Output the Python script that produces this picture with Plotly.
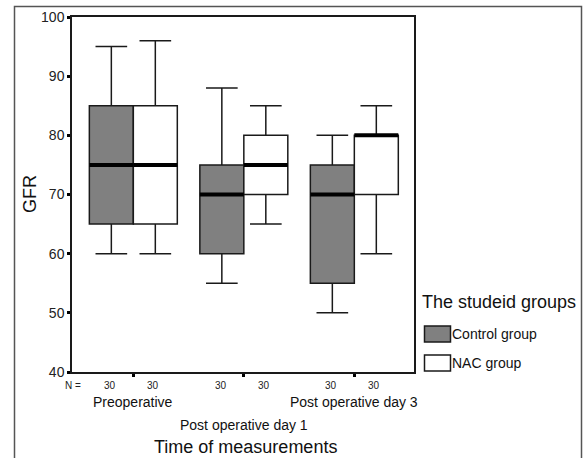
import plotly.graph_objects as go

# ---- data ----
categories = ["Preoperative", "Post operative day 1", "Post operative day 3"]
groups = ["Control group", "NAC group"]
counts = [[30, 30, 30], [30, 30, 30]]

control_lower = [60, 55, 50]
control_q1 = [65, 60, 55]
control_median = [75, 70, 70]
control_q3 = [85, 75, 75]
control_upper = [95, 88, 80]

nac_lower = [60, 65, 60]
nac_q1 = [65, 70, 70]
nac_median = [75, 75, 80]
nac_q3 = [85, 80, 80]
nac_upper = [96, 85, 85]

y_ticks = [40, 50, 60, 70, 80, 90, 100]

# ---- layout geometry ----
W, H = 585, 458
ML, MR, MT, MB = 72, 171, 17, 86
PW, PH = W - ML - MR, H - MT - MB


def px(xp):
    return (xp - ML) / PW


def py(yp):
    return (H - MB - yp) / PH


FONT = "Liberation Sans, Arial, sans-serif"
GRAY = "#808080"
LINE = "#1a1a1a"

fig = go.Figure()
series = [
    (groups[0], control_lower, control_q1, control_median, control_q3, control_upper, GRAY),
    (groups[1], nac_lower, nac_q1, nac_median, nac_q3, nac_upper, "white"),
]
for name, lo, q1, med, q3, up, fill in series:
    fig.add_trace(go.Box(
        name=name, x=categories, lowerfence=lo, q1=q1, median=med, q3=q3,
        upperfence=up, fillcolor=fill, line=dict(color=LINE, width=1.5),
        whiskerwidth=0.72, boxpoints=False, showlegend=False,
        hoverinfo="y",
    ))

shapes = []
half = (1 - 0.204) / 2
# thick median lines
for gi, (_, _, _, med, _, _, _) in enumerate(series):
    for ci, m in enumerate(med):
        x0 = ci - half if gi == 0 else ci
        shapes.append(dict(type="line", xref="x", yref="y", x0=x0, x1=x0 + half,
                           y0=m, y1=m, line=dict(color="black", width=4), layer="above"))

# outer frame
shapes.append(dict(type="rect", xref="paper", yref="paper",
                   x0=px(14.5), x1=px(581.5), y0=py(470), y1=py(6.5),
                   line=dict(color="#555", width=1.5), layer="above"))
# legend swatches
shapes.append(dict(type="rect", xref="paper", yref="paper",
                   x0=px(424.5), x1=px(450.5), y0=py(342), y1=py(326),
                   fillcolor=GRAY, line=dict(color=LINE, width=1.5)))
shapes.append(dict(type="rect", xref="paper", yref="paper",
                   x0=px(424.5), x1=px(450.5), y0=py(371), y1=py(355),
                   fillcolor="white", line=dict(color=LINE, width=1.5)))

ann = []


def add(text, x, y, xref="paper", size=14, xanchor="center", angle=0, color="#111"):
    ann.append(dict(text=text, x=x, y=y, xref=xref, yref="paper", xanchor=xanchor,
                    yanchor="middle", textangle=angle, showarrow=False,
                    font=dict(size=size, family=FONT, color=color)))


# N row
add("N =", px(72.5), py(385), size=10, color="#222")
for gi in range(2):
    for ci, n in enumerate(counts[gi]):
        xi = ci - half / 2 - 0.01 if gi == 0 else ci + half / 2 - 0.02
        add(str(n), xi, py(385), xref="x", size=10, color="#222")
# category labels (staggered)
label_y = [402, 424.5, 402]
for ci, cat in enumerate(categories):
    add(cat, ci, py(label_y[ci]), xref="x", size=14)
# titles
add("Time of measurements", px(245), py(446.5), size=18)
add("GFR", px(30), py(194), size=18, angle=-90)
# legend
add("The studeid groups", px(420), py(301.5), size=18, xanchor="left")
add(groups[0], px(450), py(334), size=14, xanchor="left")
add(groups[1], px(450), py(363), size=14, xanchor="left")

fig.update_layout(
    width=W, height=H,
    margin=dict(l=ML, r=MR, t=MT, b=MB, autoexpand=False),
    paper_bgcolor="white", plot_bgcolor="white",
    boxmode="group", boxgap=0.204, boxgroupgap=0,
    shapes=shapes, annotations=ann,
    font=dict(family=FONT, color="#222"),
    xaxis=dict(type="category", categoryorder="array", categoryarray=categories,
               range=[-0.555, 2.54], showticklabels=False, showgrid=False, zeroline=False,
               showline=True, linecolor=LINE, linewidth=1.5, mirror=True,
               ticks="outside", ticklen=3, tickwidth=3, tickcolor="black"),
    yaxis=dict(range=[40, 100], tickvals=y_ticks, showgrid=False, zeroline=False,
               showline=True, linecolor=LINE, linewidth=1.5, mirror=True,
               ticks="outside", ticklen=3, tickwidth=3, tickcolor="black",
               tickfont=dict(size=14, family=FONT, color="#222")),
)

fig.write_html("out.html", config={"displayModeBar": False},
               post_script="document.body.style.margin='0';")
